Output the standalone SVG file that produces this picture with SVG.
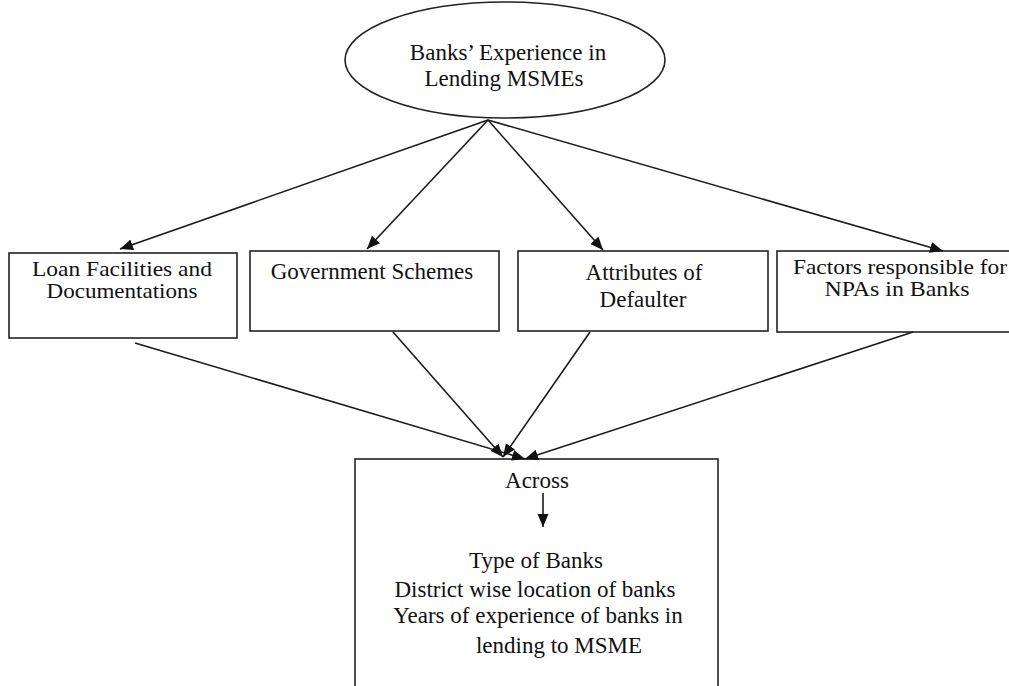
<svg xmlns="http://www.w3.org/2000/svg" width="1009" height="686" viewBox="0 0 1009 686">
  <style>
    .shape { fill: #ffffff; stroke: #222222; stroke-width: 1.6; }
    .edge { fill: none; stroke: #1a1a1a; stroke-width: 1.6; marker-end: url(#head); }
    .label { font-size: 23px; fill: #111111; text-anchor: middle; }
    .tight { font-size: 22px; }
  </style>
  <defs>
    <marker id="head" markerUnits="userSpaceOnUse" markerWidth="14" markerHeight="12" refX="13" refY="5.5" orient="auto">
      <path d="M0,0 L13,5.5 L0,11 z" fill="#111111"/>
    </marker>
  </defs>
  <rect width="1009" height="686" fill="#ffffff"/>

  <g font-family="Liberation Serif, DejaVu Serif, Times New Roman, serif">
    <g id="experience">
      <ellipse class="shape" cx="505" cy="60" rx="160" ry="58"/>
      <text class="label" x="508" y="60" font-size="22">Banks’ Experience in</text>
      <text class="label" x="504" y="86" font-size="22">Lending MSMEs</text>
    </g>

    <g id="loan-facilities">
      <rect class="shape" x="9" y="253" width="228" height="85"/>
      <text class="label tight" x="122" y="276" textLength="180" lengthAdjust="spacingAndGlyphs">Loan Facilities and</text>
      <text class="label tight" x="122" y="298" textLength="151" lengthAdjust="spacingAndGlyphs">Documentations</text>
    </g>

    <g id="government-schemes">
      <rect class="shape" x="250" y="251" width="249" height="80"/>
      <text class="label" x="372" y="279">Government Schemes</text>
    </g>

    <g id="attributes-defaulter">
      <rect class="shape" x="518" y="251" width="250" height="80"/>
      <text class="label" x="644" y="280">Attributes of</text>
      <text class="label" x="643" y="307">Defaulter</text>
    </g>

    <g id="npa-factors">
      <rect class="shape" x="777" y="251" width="250" height="81"/>
      <text class="label tight" x="900" y="274" textLength="214" lengthAdjust="spacingAndGlyphs">Factors responsible for</text>
      <text class="label tight" x="897" y="296" textLength="145" lengthAdjust="spacingAndGlyphs">NPAs in Banks</text>
    </g>

    <g id="across">
      <rect class="shape" x="355" y="459" width="363" height="250"/>
      <text class="label" x="537" y="488">Across</text>
      <line class="edge" x1="543" y1="493" x2="543" y2="527"/>
      <text class="label" x="536" y="568">Type of Banks</text>
      <text class="label" x="535" y="597">District wise location of banks</text>
      <text class="label" x="538" y="623">Years of experience of banks in</text>
      <text class="label" x="559" y="653">lending to MSME</text>
    </g>
  </g>

  <g id="connectors">
    <line class="edge" x1="488" y1="120" x2="120" y2="249"/>
    <line class="edge" x1="488" y1="120" x2="367" y2="249"/>
    <line class="edge" x1="488" y1="120" x2="603" y2="250"/>
    <line class="edge" x1="488" y1="120" x2="943" y2="251"/>
    <line class="edge" x1="135" y1="343" x2="525" y2="459"/>
    <line class="edge" x1="393" y1="332" x2="503" y2="457"/>
    <line class="edge" x1="590" y1="332" x2="503" y2="457"/>
    <line class="edge" x1="913" y1="332" x2="525" y2="459"/>
  </g>
</svg>
